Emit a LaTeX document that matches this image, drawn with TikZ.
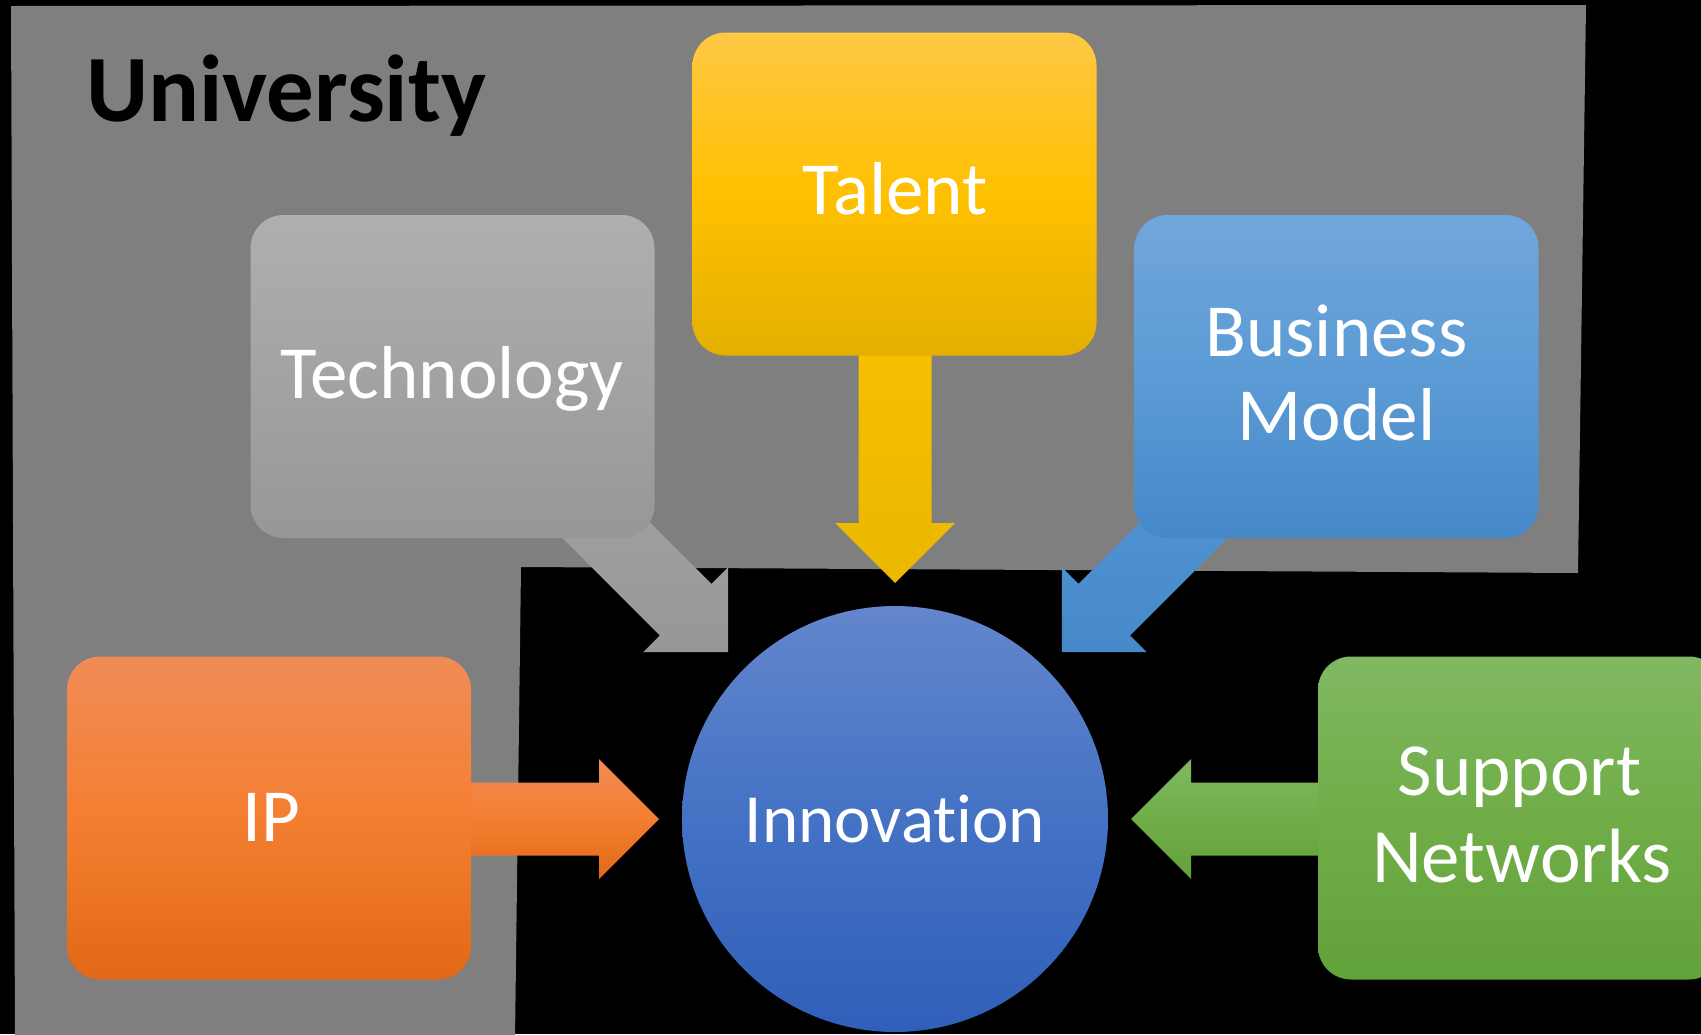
\documentclass[tikz,border=0pt]{standalone}
\usepackage{fontspec}
\setmainfont{Carlito}[Ligatures=NoCommon]
\usetikzlibrary{backgrounds}
\definecolor{univ}{HTML}{7F7F7F}
\definecolor{techT}{HTML}{AFAFAF}\definecolor{techM}{HTML}{A3A3A3}\definecolor{techB}{HTML}{979797}
\definecolor{talT}{HTML}{FFC845}\definecolor{talM}{HTML}{FFC000}\definecolor{talB}{HTML}{E3B000}
\definecolor{busT}{HTML}{72A6DB}\definecolor{busM}{HTML}{5B9BD5}\definecolor{busB}{HTML}{4589C9}
\definecolor{ipT}{HTML}{F08C57}\definecolor{ipM}{HTML}{F47E30}\definecolor{ipB}{HTML}{E36818}
\definecolor{supT}{HTML}{80B862}\definecolor{supM}{HTML}{70AD47}\definecolor{supB}{HTML}{62A23A}
\definecolor{innT}{HTML}{6386CC}\definecolor{innM}{HTML}{4472C4}\definecolor{innB}{HTML}{2F5FB9}
\definecolor{talAT}{HTML}{FFC300}\definecolor{talAB}{HTML}{EAB800}
\definecolor{busAT}{HTML}{5A9DDB}\definecolor{busAB}{HTML}{4589C9}
\newcommand\blockarr[2]{%
  \begin{scope}[shift={(inn.center)}, rotate=#1]
    \shade[#2] (-600,-36.5) -- (-296,-36.5) -- (-296,-60) -- (-236,0)
      -- (-296,60) -- (-296,36.5) -- (-600,36.5) -- cycle;
  \end{scope}}
\begin{document}
\begin{tikzpicture}[x=1pt,y=-1pt,
  box/.style={rectangle, rounded corners=33pt, minimum width=404pt,
    minimum height=323pt, inner sep=0pt, draw=none},
  lbl/.style={text=white, font=\fontsize{75}{85}\selectfont, inner sep=0pt, anchor=base},
  titlelbl/.style={text=black, font=\fontsize{95}{100}\selectfont\bfseries, inner sep=0pt, anchor=base west}]
\useasboundingbox (0,0) rectangle (1701,1034);

% boxes
\node[box, top color=techT, bottom color=techB, middle color=techM] (tech) at (452.5,376.5) {};
\node[box, top color=talT, bottom color=talB, middle color=talM] (tal) at (894.5,194) {};
\node[box, top color=busT, bottom color=busB, middle color=busM] (bus) at (1336.5,376.5) {};
\node[box, top color=ipT, bottom color=ipB, middle color=ipM] (ip) at (269,818) {};
\node[box, top color=supT, bottom color=supB, middle color=supM] (sup) at (1520,818) {};
\node[circle, minimum size=426pt, inner sep=0pt, draw=none,
  top color=innT, bottom color=innB, middle color=innM,
  text=white, font=\fontsize{69}{80}\selectfont] (inn) at (895,819) {Innovation};

% labels
\node[titlelbl] (tuni) at (86,121) {University};
\node[lbl] (ttech) at (452,398) {Technology};
\node[lbl] (ttal) at (895,214) {Talent};
\node[lbl] (tbus1) at (1336.5,356) {Business};
\node[lbl] (tbus2) at (1336.5,440) {Model};
\node[lbl] (tip) at (271,841) {IP};
\node[lbl] (tsup1) at (1519.5,795) {Support};
\node[lbl, font=\fontsize{77}{85}\selectfont] (tsup2) at (1522,882) {Networks};

\begin{scope}[on background layer]
  \fill[black] (0,0) rectangle (1701,1034);
  \fill[univ] (11,6) -- (1586,5) -- (1578,573) -- (521,567) -- (515,1040) -- (15,1040) -- cycle;
  \blockarr{0}{top color=ipT, bottom color=ipB, middle color=ipM}
  \blockarr{180}{top color=supT, bottom color=supB, middle color=supM}
  \blockarr{-90}{top color=talAT, bottom color=talAB}
  \blockarr{-45}{top color=techT!95!black, bottom color=techB}
  \blockarr{-135}{top color=busAT, bottom color=busAB}
\end{scope}
\end{tikzpicture}
\end{document}
